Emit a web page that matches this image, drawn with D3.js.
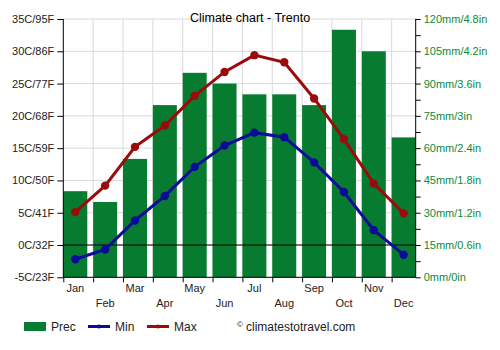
<!DOCTYPE html>
<html>
<head>
<meta charset="utf-8">
<script src="https://cdn.jsdelivr.net/npm/d3@7"></script>
<style>
html,body{margin:0;padding:0;background:#fff;}
svg{display:block;font-family:"Liberation Sans",Arial,sans-serif;}
</style>
</head>
<body>
<svg id="chart" width="500" height="350"></svg>
<script>
const months = ["Jan","Feb","Mar","Apr","May","Jun","Jul","Aug","Sep","Oct","Nov","Dec"];
const prec = [40, 35, 55, 80, 95, 90, 85, 85, 80, 115, 105, 65];
const tMin = [-2.2, -0.7, 3.8, 7.6, 12.1, 15.4, 17.4, 16.7, 12.8, 8.2, 2.3, -1.5];
const tMax = [5.1, 9.2, 15.2, 18.5, 23.1, 26.8, 29.4, 28.3, 22.7, 16.4, 9.5, 4.9];
const tempTicks = [-5, 0, 5, 10, 15, 20, 25, 30, 35];
const tempLabels = ["-5C/23F","0C/32F","5C/41F","10C/50F","15C/59F","20C/68F","25C/77F","30C/86F","35C/95F"];
const precTicks = [0, 15, 30, 45, 60, 75, 90, 105, 120];
const precLabels = ["0mm/0in","15mm/0.6in","30mm/1.2in","45mm/1.8in","60mm/2.4in","75mm/3in","90mm/3.6in","105mm/4.2in","120mm/4.8in"];

const L = 63.3, R = 415.7, T = 19, B = 277.3, step = 29.85, barW = 24;
const svg = d3.select("#chart");
const x = d3.scaleLinear().domain([0, 12]).range([L, L + 12 * step]);
const yT = d3.scaleLinear().domain([-5, 35]).range([B, T]);
const yP = d3.scaleLinear().domain([0, 120]).range([B, T]);
const cx = i => x(i) + barW / 2;

// grid
const g = svg.append("g");
g.selectAll("line.h").data(tempTicks).enter().append("line")
  .attr("x1", L).attr("x2", R).attr("y1", d => yT(d)).attr("y2", d => yT(d))
  .attr("stroke", "#d9d9d9").attr("stroke-width", 1);
g.selectAll("line.v").data(d3.range(1, 12)).enter().append("line")
  .attr("x1", d => x(d)).attr("x2", d => x(d)).attr("y1", T).attr("y2", B)
  .attr("stroke", "#d9d9d9").attr("stroke-width", 1);

// bars
svg.append("g").selectAll("rect").data(prec).enter().append("rect")
  .attr("x", (d, i) => x(i)).attr("width", (d, i) => Math.min(barW, R - x(i)))
  .attr("y", d => yP(d)).attr("height", d => B - yP(d))
  .attr("fill", "#077c30");

// zero line
svg.append("line").attr("x1", L).attr("x2", R).attr("y1", yT(0)).attr("y2", yT(0))
  .attr("stroke", "#000").attr("stroke-width", 1);

// axes
const axL = svg.append("g").attr("transform", `translate(${L},0)`)
  .call(d3.axisLeft(yT).tickValues(tempTicks).tickSize(6).tickPadding(3)
    .tickFormat((d, i) => tempLabels[i]));
const axR = svg.append("g").attr("transform", `translate(${R},0)`)
  .call(d3.axisRight(yP).tickValues(d3.range(0, 121, 7.5)).tickSize(5).tickPadding(3)
    .tickFormat(d => { const k = precTicks.indexOf(d); return k >= 0 ? precLabels[k] : ""; }));
const axB = svg.append("g").attr("transform", `translate(0,${B})`)
  .call(d3.axisBottom(x).tickValues(d3.range(0, 12)).tickSize(5).tickFormat(""));
[axL, axR, axB].forEach(a => {
  a.select(".domain").attr("stroke", "#000");
  a.selectAll(".tick line").attr("stroke", "#000");
  a.selectAll("text").attr("font-size", 11).attr("font-family", "Liberation Sans, Arial, sans-serif");
});
axL.select(".domain").attr("d", `M0,${T}V${B}`);
axR.select(".domain").attr("d", `M0,${T}V${B}`);
axB.select(".domain").attr("d", `M${L},0H${R}`);
axL.selectAll("text").attr("fill", "#222");
axR.selectAll("text").attr("fill", "#0a8a3c");

// month labels
svg.append("g").selectAll("text").data(months).enter().append("text")
  .attr("x", (d, i) => cx(i)).attr("y", (d, i) => i % 2 === 0 ? 292 : 307)
  .attr("text-anchor", "middle").attr("font-size", 11).attr("fill", "#222").text(d => d);

// lines
const line = d3.line().x((d, i) => cx(i)).y(d => yT(d));
[[tMin, "#0b0b9a"], [tMax, "#9a0b0b"]].forEach(([data, col]) => {
  svg.append("path").datum(data).attr("d", line).attr("fill", "none")
    .attr("stroke", col).attr("stroke-width", 3);
  svg.append("g").selectAll("circle").data(data).enter().append("circle")
    .attr("cx", (d, i) => cx(i)).attr("cy", d => yT(d)).attr("r", 4.2).attr("fill", col);
});

// title
svg.append("text").attr("x", 250).attr("y", 22).attr("text-anchor", "middle")
  .attr("font-size", 12.5).attr("fill", "#000").text("Climate chart - Trento");

// legend
const lg = svg.append("g").attr("font-size", 12).attr("fill", "#222");
lg.append("rect").attr("x", 24).attr("y", 322).attr("width", 22).attr("height", 9).attr("fill", "#077c30");
lg.append("text").attr("x", 51).attr("y", 331).text("Prec");
lg.append("line").attr("x1", 88).attr("x2", 110).attr("y1", 326.5).attr("y2", 326.5).attr("stroke", "#0b0b9a").attr("stroke-width", 3);
lg.append("circle").attr("cx", 99).attr("cy", 326.5).attr("r", 2).attr("fill", "#0b0b9a");
lg.append("text").attr("x", 115).attr("y", 331).text("Min");
lg.append("line").attr("x1", 147).attr("x2", 169).attr("y1", 326.5).attr("y2", 326.5).attr("stroke", "#9a0b0b").attr("stroke-width", 3);
lg.append("circle").attr("cx", 158).attr("cy", 326.5).attr("r", 2).attr("fill", "#9a0b0b");
lg.append("text").attr("x", 174).attr("y", 331).text("Max");
lg.append("text").attr("x", 237).attr("y", 327).attr("font-size", 8).text("\u00A9");
lg.append("text").attr("x", 246).attr("y", 331).text("climatestotravel.com");
</script>
</body>
</html>
